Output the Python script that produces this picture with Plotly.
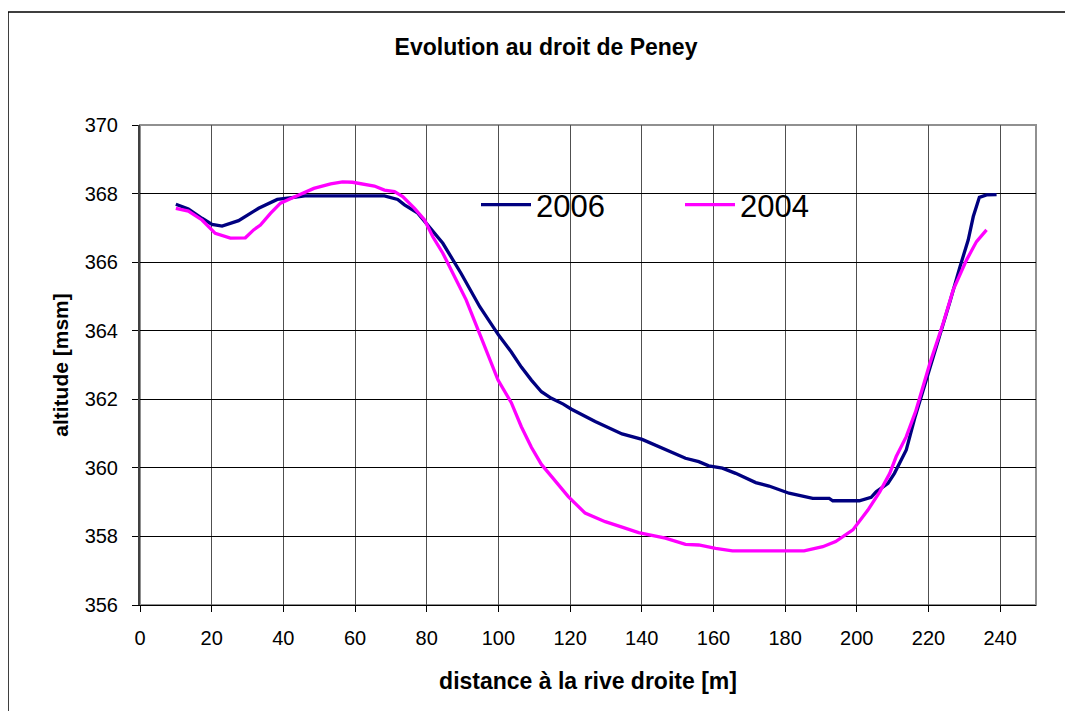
import plotly.graph_objects as go

# distance from right bank [m] and altitude [msm]
x2006 = [10, 13.5, 17.3, 20.1, 22.9, 27.5, 33.1, 38.3, 42.9, 46, 55, 62, 68.2, 71.9, 73.8,
         77.5, 80.3, 84.5, 89.6, 94.8, 100, 103.6, 106.4, 109.2, 112, 114.8, 118.1, 120.4,
         127, 134.5, 140.1, 145.7, 152.2, 155.9, 158.7, 162.5, 166.2, 171.8, 175.5, 181.1,
         187.7, 192.3, 193.3, 200.7, 204, 205.4, 208.7, 210.5, 213.8, 216.3, 219.4, 223.6,
         226, 228.8, 231.1, 232.5, 234.2, 236.2, 239]
y2006 = [367.69, 367.55, 367.28, 367.1, 367.05, 367.21, 367.57, 367.83, 367.89, 367.93,
         367.93, 367.93, 367.93, 367.83, 367.67, 367.43, 367.08, 366.55, 365.67, 364.70,
         363.88, 363.38, 362.94, 362.56, 362.22, 362.03, 361.86, 361.71, 361.35, 360.99,
         360.83, 360.57, 360.28, 360.18, 360.06, 359.99, 359.84, 359.57, 359.47, 359.26,
         359.11, 359.11, 359.04, 359.04, 359.14, 359.3, 359.55, 359.84, 360.52, 361.5,
         362.56, 364.02, 364.85, 365.87, 366.65, 367.33, 367.89, 367.96, 367.97]

x2004 = [10, 13.5, 17.3, 21, 25.2, 29.4, 31.7, 33.6, 36.4, 39.2, 42.9, 45.7, 48.5, 53.2,
         56.5, 59.3, 61.6, 65.4, 68.2, 71, 73.3, 76.6, 79.4, 81.7, 84.5, 87.8, 91, 95, 99.9,
         103.6, 106.4, 109.2, 112, 114.8, 119.5, 124.2, 129.8, 134.5, 139.1, 146.6, 152.2,
         155.9, 160.6, 165.3, 177.4, 185.3, 190.5, 194.1, 198.9, 203.1, 206.4, 209.2, 211,
         213.8, 216.4, 220.4, 224.1, 226.9, 230.6, 233.4, 236.2]
y2004 = [367.57, 367.49, 367.23, 366.84, 366.7, 366.71, 366.94, 367.08, 367.42, 367.72,
         367.89, 368.03, 368.15, 368.28, 368.34, 368.33, 368.28, 368.22, 368.1, 368.06,
         367.91, 367.57, 367.23, 366.74, 366.26, 365.58, 364.9, 363.85, 362.56, 361.9,
         361.2, 360.6, 360.1, 359.75, 359.16, 358.68, 358.43, 358.27, 358.11, 357.95,
         357.77, 357.75, 357.65, 357.58, 357.58, 357.58, 357.7, 357.85, 358.19, 358.77,
         359.3, 359.84, 360.33, 360.91, 361.64, 363.05, 364.22, 365.19, 366.06, 366.6,
         366.94]

x_ticks = [0, 20, 40, 60, 80, 100, 120, 140, 160, 180, 200, 220, 240]
y_ticks = [356, 358, 360, 362, 364, 366, 368, 370]

FONT = "Liberation Sans, Arial, sans-serif"

fig = go.Figure()
fig.add_trace(go.Scatter(x=x2006, y=y2006, mode="lines", name="2006",
                         line=dict(color="#000080", width=3.3)))
fig.add_trace(go.Scatter(x=x2004, y=y2004, mode="lines", name="2004",
                         line=dict(color="#FF00FF", width=3.3)))

OFF = 8  # page body margin
W, H = 1073, 711
L, R, T, B = 132, 45, 117, 114
pw, ph = W - L - R, H - T - B


def px_x(p):  # screen pixel -> paper x
    return (p - OFF - L) / pw


def px_y(p):  # screen pixel -> paper y
    return (H - B + OFF - p) / ph


fig.update_layout(
    width=W, height=H,
    margin=dict(l=L, r=R, t=T, b=B),
    paper_bgcolor="white", plot_bgcolor="white",
    font=dict(family=FONT, color="black"),
    title=dict(text="Evolution au droit de Peney", x=(546 - OFF) / W, xanchor="center",
               y=1 - (47 - OFF) / H, yanchor="middle",
               font=dict(family=FONT, size=23, weight="bold", color="black")),
    xaxis=dict(range=[0, 250], tickvals=x_ticks, ticks="outside", ticklen=6,
               tickcolor="black", showgrid=True, gridcolor="#505050", gridwidth=1,
               showline=True, linecolor="black", linewidth=1, zeroline=False,
               tickfont=dict(family=FONT, size=20), ticklabelstandoff=9,
               title=dict(text="distance à la rive droite [m]", standoff=24,
                          font=dict(family=FONT, size=23, weight="bold"))),
    yaxis=dict(range=[356, 370], tickvals=y_ticks, ticks="outside", ticklen=6,
               tickcolor="black", showgrid=True, gridcolor="black", gridwidth=1,
               showline=True, linecolor="#404040", linewidth=2, zeroline=False,
               tickfont=dict(family=FONT, size=20), ticklabelstandoff=10,
               title=dict(text="altitude [msm]", standoff=10,
                          font=dict(family=FONT, size=21, weight="bold"))),
    legend=dict(orientation="h", x=px_x(476), xanchor="left", y=px_y(205), yanchor="middle",
                bgcolor="rgba(0,0,0,0)", borderwidth=0, font=dict(family=FONT, size=31),
                entrywidth=139, entrywidthmode="pixels", itemwidth=50),
    shapes=[
        dict(type="rect", xref="paper", yref="paper", x0=px_x(443), x1=px_x(848),
             y0=px_y(262), y1=px_y(150), fillcolor="white", line=dict(width=0),
             layer="between"),
        dict(type="rect", xref="paper", yref="paper", x0=0, x1=1, y0=0, y1=1,
             line=dict(color="#909090", width=2), layer="below"),
        dict(type="path", xref="paper", yref="paper",
             path=f"M {px_x(8)},{px_y(760)} L {px_x(8)},{px_y(12)} L {px_x(1100)},{px_y(12)}",
             line=dict(color="black", width=1.5)),
    ],
)

fig.write_html("out.html")
